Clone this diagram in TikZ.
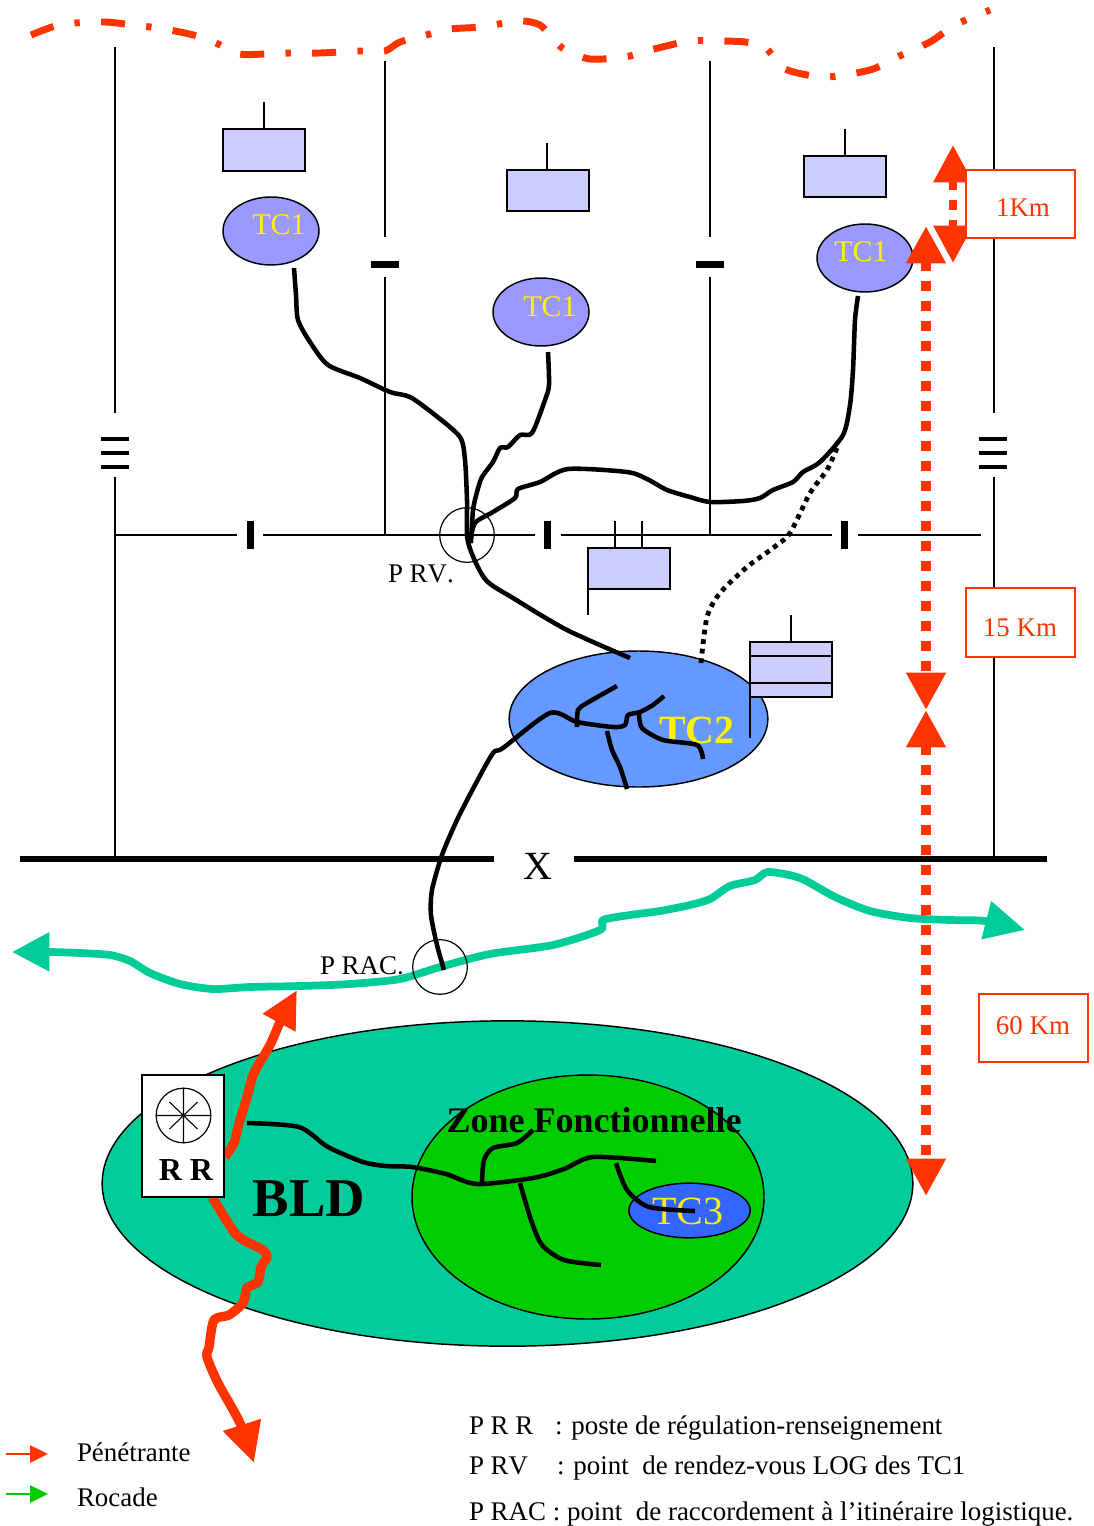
\documentclass[tikz,border=0pt]{standalone}
\usepackage{fontspec}
\setmainfont[Kerning=Off]{Liberation Serif}
\usetikzlibrary{arrows.meta,shapes.geometric}
\definecolor{redo}{HTML}{FF3300}
\definecolor{lav}{HTML}{CCCCFF}
\definecolor{tcone}{HTML}{9999FF}
\definecolor{tctwo}{HTML}{6699FF}
\definecolor{tcthree}{HTML}{3366FF}
\definecolor{bldc}{HTML}{00CC99}
\definecolor{zonec}{HTML}{00CC00}
\newcommand{\fsz}[1]{\fontsize{#1}{#1}\selectfont}
\tikzset{
  thinl/.style={draw=black,line width=1.1pt},
  txt/.style={inner sep=0pt,outer sep=0pt,anchor=base,font=\fsz{20.2}},
  ltxt/.style={txt,anchor=base west},
  tcl/.style={txt,text=yellow,font=\fsz{22.5}},
  lavbox/.style={draw=black,fill=lav,line width=1.2pt},
  ell/.style={ellipse,draw=black,line width=1.1pt,inner sep=0pt,outer sep=0pt},
  tcell/.style={ell,fill=tcone,minimum width=72pt,minimum height=51pt},
  route/.style={draw=black,line width=3.4pt,line join=round},
  dist/.style={draw=redo,line width=7.5pt,dash pattern=on 7.5pt off 7.5pt,{Triangle[length=28pt,width=28pt]}-{Triangle[length=28pt,width=28pt]}},
  distbox/.style={draw=redo,fill=white,line width=.9pt},
  redtxt/.style={txt,text=redo},
  penet/.style={draw=redo,line width=7pt,line join=round},
  rbar/.style={fill=black},
  smoothp/.style={smooth,tension=.45},
  ring/.style={circle,draw=black,line width=.9pt,inner sep=0pt,minimum size=41pt},
}
\begin{document}
\begin{tikzpicture}[x=.75pt,y=-.75pt]
\useasboundingbox (0,0) rectangle (1093,1526);
% front line
\draw[redo,line width=5.2pt,dash pattern=on 18pt off 16pt on 4pt off 16pt]
 plot[smoothp] coordinates {(31,35)(55,26)(75,23)(105,22)(125,24)(150,27)(175,31)(197,36)(218,44)(240,54)(265,54)(290,53)(320,53)(360,51)(385,51)(400,42)(430,34)(450,29)(480,27)(520,21)(540,25)(552,38)(565,50)(590,59)(625,57)(650,50)(690,41)(720,41)(745,42)(765,47)(785,69)(825,77)(870,70)(895,58)(930,42)(955,25)(990,10)};
% thin roads
\draw[thinl] (115,47)--(115,413) (115,477)--(115,858);
\draw[thinl] (994,47)--(994,413) (994,477)--(994,858);
\draw[thinl] (385,61)--(385,237) (385,277)--(385,535);
\draw[thinl] (710,61)--(710,237) (710,277)--(710,535);
\draw[thinl] (115,535)--(237,535) (263,535)--(535,535) (561,535)--(832,535) (858,535)--(981,535);
% bars
\foreach \yy in {439,453,467}{
  \fill[rbar] (101,\yy-2) rectangle (129,\yy+2);
  \fill[rbar] (979,\yy-2) rectangle (1007,\yy+2);
}
\fill[rbar] (371,261) rectangle (399,268);
\fill[rbar] (696,261) rectangle (724,268);
\fill[rbar] (247,521) rectangle (254,549);
\fill[rbar] (544,521) rectangle (551,549);
\fill[rbar] (841,521) rectangle (848,549);
% X line
\draw[black,line width=4.6pt] (20,859)--(494,859) (574,859)--(1047,859);
\node[txt,font=\fsz{30}] (xlabel) at (538,879) {X};
% lavender units
\draw[lavbox] (223,129) rectangle (305,171);
\draw[thinl] (264,102)--(264,129);
\draw[lavbox] (507,170) rectangle (589,211);
\draw[thinl] (547,143)--(547,170);
\draw[lavbox] (804,156) rectangle (886,197);
\draw[thinl] (845,129)--(845,156);
\draw[lavbox] (588,548) rectangle (670,589);
\draw[thinl] (615,521)--(615,548) (642,521)--(642,548) (588,589)--(588,615);
% TC1
\node[tcell] (tca) at (271,231) {};
\node[tcell] (tcb) at (541,312) {};
\node[tcell] (tcc) at (865,258) {};
\node[tcl] at (279,235) {TC1};
\node[tcl] at (550,316) {TC1};
\node[tcl] at (861,262) {TC1};
% TC2
\node[ell,fill=tctwo,minimum width=194pt,minimum height=102pt] (tcd) at (638.5,719) {};
\draw[lavbox] (750,642) rectangle (832,697);
\draw[thinl] (750,656)--(832,656) (750,683)--(832,683) (791,615)--(791,642) (750,697)--(750,738);
\node[txt,text=yellow,font=\fsz{30}\bfseries] at (697,743) {TC2};
% BLD
\node[ell,fill=bldc,minimum width=608pt,minimum height=244pt] (bld) at (507.5,1183.5) {};
\node[ell,fill=zonec,minimum width=264pt,minimum height=183pt] (zf) at (588,1197) {};
\node[ell,fill=tcthree,minimum width=91pt,minimum height=41pt] (tce) at (689.5,1210.5) {};
\node[txt,font=\fsz{41}\bfseries] at (309,1216) {BLD};
\node[txt,font=\fsz{27}\bfseries] at (594,1132) {Zone Fonctionnelle};
\node[tcl,font=\fsz{30}] at (688,1224) {TC3};
% rocade
\draw[draw=bldc,line width=5.8pt,line join=round,{Triangle[length=28pt,width=28pt]}-{Triangle[length=30pt,width=28pt]}]
 plot[smoothp] coordinates {(12,952)(50,952)(80,953)(110,955)(130,961)(150,973)(180,984)(213,989)(250,987)(300,986)(350,984)(400,979)(440,967)(490,954)(553,945)(600,930)(603,920)(630,915)(660,911)(690,905)(710,899)(730,886)(755,880)(768,872)(800,878)(835,897)(870,911)(910,918)(950,920)(985,921)(1025,930)};
% penetrante
\draw[penet,-{Triangle[length=28pt,width=26pt]}]
 plot[smoothp] coordinates {(225,1157)(234,1143)(238,1127)(247,1097)(254,1073)(270,1045)(281,1020)(297,990)};
\draw[penet,-{Triangle[length=30pt,width=28pt]}]
 plot[smoothp] coordinates {(212,1197)(234,1232)(241,1238)(247,1242)(263,1250)(267,1257)(261,1267)(258,1282)(247,1288)(243,1303)(229,1315)(214,1320)(209,1347)(207,1357)(218,1383)(240,1423)(254,1463)};
% RR box
\node[draw=black,fill=white,line width=1pt,inner sep=0pt,minimum width=61.5pt,minimum height=91.5pt] (rr) at (183,1136) {};
\node[circle,draw=black,line width=.9pt,inner sep=0pt,minimum size=41pt] (rrc) at (183.5,1115.5) {};
\draw[thinl,line width=.8pt] (rrc.north)--(rrc.south) (rrc.west)--(rrc.east)
 ([shift={(-14,-13.5)}]rrc.center)--([shift={(14,13.5)}]rrc.center)
 ([shift={(14,-13.5)}]rrc.center)--([shift={(-14,13.5)}]rrc.center);
\node[txt,font=\fsz{24}\bfseries] at (186,1180) {R R};
% distances
\draw[dist,line width=6.2pt] (953,145)--(953,263);
\draw[dist] (926,226)--(926,710);
\draw[dist] (926,710)--(926,1196);
\draw[distbox] (966,170) rectangle (1075,238);
\draw[distbox] (966,588) rectangle (1075,657);
\draw[distbox] (979,994) rectangle (1088,1062);
\node[redtxt] at (1023,217) {1Km};
\node[redtxt] at (1020,636) {15 Km};
\node[redtxt] at (1033,1034) {60 Km};
% routes
\draw[route] plot[smoothp] coordinates {(294,268)(296,295)(298,320)(310,342)(328,365)(360,378)(390,392)(410,397)(435,415)(460,437)(465,460)(467,500)(468,542)(485,579)(513,598)(567,630)(630,658)};
\draw[route] plot[smoothp] coordinates {(548,352)(549,385)(545,400)(532,433)(520,435)(508,447)(500,448)(493,462)(482,477)(477,492)(473,510)(471,543)};
\draw[route] plot[smoothp] coordinates {(858,296)(855,320)(853,370)(850,405)(843,435)(820,462)(803,472)(793,482)(773,490)(760,498)(743,501)(710,502)(690,497)(667,490)(647,479)(627,472)(568,469)(540,482)(518,489)(515,498)(493,512)(475,523)(470,543)};
\draw[draw=black,line width=3.6pt,dash pattern=on 3.6pt off 3.6pt] plot[smoothp] coordinates {(837,448)(827,470)(810,493)(790,533)(773,548)(747,567)(720,593)(707,617)(701,663)};
\draw[route] plot[smoothp] coordinates {(444,970)(437,945)(431,915)(432,890)(442,855)(457,820)(475,785)(493,753)(503,748)(550,713)(577,722)(613,727)(625,725)(628,715)(640,712)(653,705)(664,696)};
\draw[route] plot[smoothp] coordinates {(577,727)(578,710)(587,703)(617,686)};
\draw[route] plot[smoothp] coordinates {(607,731)(612,750)(620,767)(627,789)};
\draw[route] plot[smoothp] coordinates {(639,713)(642,728)(663,740)(697,745)(703,759)};
\draw[route] plot[smoothp] coordinates {(247,1123)(299,1127)(328,1147)(363,1162)(386,1166)(412,1167)(446,1174)(477,1184)(533,1178)(564,1169)(593,1157)(656,1161)};
\draw[route] plot[smoothp] coordinates {(482,1182)(484,1160)(493,1148)(517,1143)(533,1130)};
\draw[route] plot[smoothp] coordinates {(520,1183)(531,1220)(542,1245)(564,1260)(601,1265)};
\draw[route] plot[smoothp] coordinates {(616,1163)(627,1190)(649,1207)(695,1211)};
% rings
\node[ring] (prv) at (467,535) {};
\node[ring] (prac) at (440,967) {};
\node[ltxt] at (388,582) {P RV.};
\node[ltxt] at (320,974) {P RAC.};
% legend
\draw[draw=redo,line width=1.1pt,-{Triangle[length=13.5pt,width=13pt]}] (6,1454)--(48,1454);
\draw[draw=zonec,line width=1.1pt,-{Triangle[length=13.5pt,width=13pt]}] (6,1494)--(48,1494);
\node[ltxt] at (77,1461) {Pénétrante};
\node[ltxt] at (77,1506) {Rocade};
\node[ltxt] at (469,1434) {P R R};
\node[ltxt] at (555,1434) {: poste de régulation-renseignement};
\node[ltxt] at (469,1474) {P RV};
\node[ltxt] at (557,1474) {: point\hspace{.25em} de rendez-vous LOG des TC1};
\node[ltxt] at (469,1520) {P RAC : point\hspace{.25em} de raccordement à l’itinéraire logistique.};
\end{tikzpicture}
\end{document}
